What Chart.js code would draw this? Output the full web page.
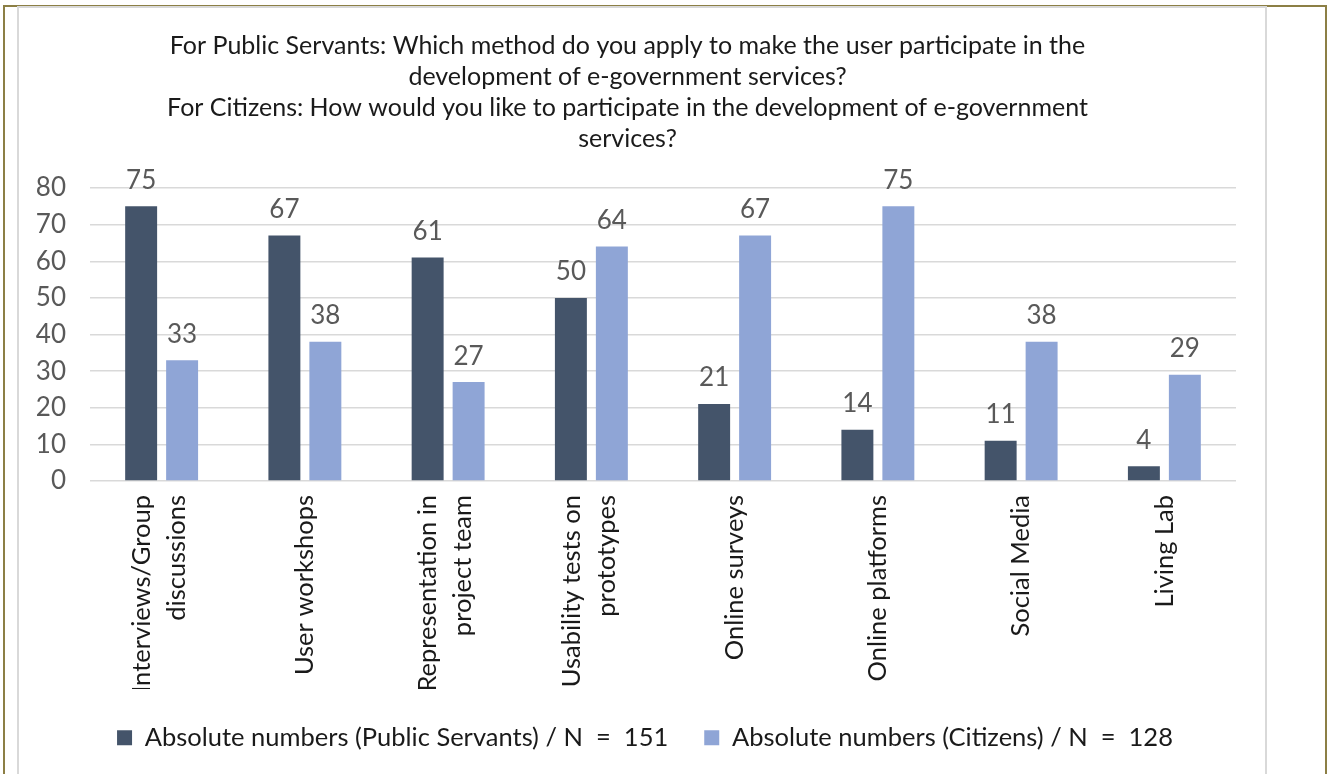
<!DOCTYPE html>
<html>
<head>
<meta charset="utf-8">
<script src="https://cdn.jsdelivr.net/npm/chart.js@4/dist/chart.umd.min.js"></script>
<style>
    html, body { margin: 0; padding: 0; background: #fff; overflow: hidden; }
    .outer {
        position: absolute; left: 3px; top: 5px; width: 1320px; height: 800px;
        border: 2px solid #8C7F45; border-bottom: none;
    }
    .inner {
        position: absolute; left: 17px; top: 6px; width: 1246px; height: 800px;
        border: 2px solid #D9D9D9; border-bottom: none; background: #fff;
    }
    .inner canvas { position: absolute; left: 0; top: 0; }
</style>
</head>
<body>
<div class="outer"></div>
<div class="inner"><canvas id="chart" width="1246" height="767"></canvas></div>
<script>
// ---- data ----
const categories = [
    ['Interviews/Group', 'discussions'],
    'User workshops',
    ['Representation in', 'project team'],
    ['Usability tests on', 'prototypes'],
    'Online surveys',
    'Online platforms',
    'Social Media',
    'Living Lab'
];
const publicServants = [75, 67, 61, 50, 21, 14, 11, 4];
const citizens = [33, 38, 27, 64, 67, 75, 38, 29];
const seriesNames = [
    'Absolute numbers (Public Servants) / N  =  151',
    'Absolute numbers (Citizens) / N  =  128'
];
const yTicks = [0, 10, 20, 30, 40, 50, 60, 70, 80];
const titleLines = [
    'For Public Servants: Which method do you apply to make the user participate in the',
    'development of e-government services?',
    'For Citizens: How would you like to participate in the development of e-government',
    'services?'
];

const FONT = 'Lato, "Open Sans", sans-serif';

// value labels above each bar
const valueLabels = {
    id: 'valueLabels',
    afterDatasetsDraw(chart) {
        const ctx = chart.ctx;
        ctx.save();
        ctx.font = '26px ' + FONT;
        ctx.fillStyle = '#595959';
        ctx.textAlign = 'center';
        ctx.textBaseline = 'middle';
        chart.data.datasets.forEach((ds, i) => {
            chart.getDatasetMeta(i).data.forEach((bar, j) => {
                ctx.fillText(ds.data[j], bar.x, bar.y - 26);
            });
        });
        ctx.restore();
    }
};

// centre the two-line category labels on their tick, like the original
const centerMultiLine = {
    id: 'centerMultiLine',
    beforeDraw(chart) {
        const items = chart.scales.x.getLabelItems();
        items.forEach(item => {
            if (Array.isArray(item.label) && !item._centered) {
                item.textOffset -= 20;
                item._centered = true;
            }
        });
    }
};

// legend in the original is centred on the whole canvas, not the plot box
const legendShift = {
    id: 'legendShift',
    afterLayout(chart) {
        chart.legend.left += 17.5;
        chart.legend.right += 17.5;
    }
};

new Chart(document.getElementById('chart'), {
    type: 'bar',
    data: {
        labels: categories,
        datasets: [
            {
                label: seriesNames[0],
                data: publicServants,
                backgroundColor: '#44546A',
                categoryPercentage: 0.572,
                barPercentage: 0.78
            },
            {
                label: seriesNames[1],
                data: citizens,
                backgroundColor: '#8FA5D6',
                categoryPercentage: 0.572,
                barPercentage: 0.78
            }
        ]
    },
    options: {
        responsive: false,
        animation: false,
        layout: { padding: { left: 0, right: 29, top: 0, bottom: 14.5 } },
        plugins: {
            title: {
                display: true,
                text: titleLines,
                color: '#1a1a1a',
                font: { family: FONT, size: 25, weight: 'normal', lineHeight: 1.24 },
                padding: { top: 22, bottom: 34 }
            },
            legend: {
                position: 'bottom',
                labels: {
                    color: '#1a1a1a',
                    font: { family: FONT, size: 25.5 },
                    boxWidth: 15,
                    boxHeight: 15,
                    padding: 36
                }
            },
            tooltip: { enabled: false }
        },
        scales: {
            x: {
                grid: { display: false, drawTicks: false },
                border: { display: false },
                ticks: {
                    color: '#1a1a1a',
                    font: { family: FONT, size: 25.5, lineHeight: 1.37 },
                    minRotation: 90,
                    maxRotation: 90,
                    autoSkip: false,
                    padding: 14
                },
                afterFit(scale) { scale.height = 208; }
            },
            y: {
                min: 0,
                max: 80,
                afterBuildTicks(scale) { scale.ticks = yTicks.map(v => ({ value: v })); },
                grid: { color: '#D9D9D9', lineWidth: 1.5, drawTicks: false },
                border: { display: false },
                ticks: {
                    color: '#595959',
                    font: { family: FONT, size: 26 },
                    padding: 24
                },
                afterFit(scale) { scale.width = 71; }
            }
        }
    },
    plugins: [valueLabels, centerMultiLine, legendShift]
});
</script>
</body>
</html>
